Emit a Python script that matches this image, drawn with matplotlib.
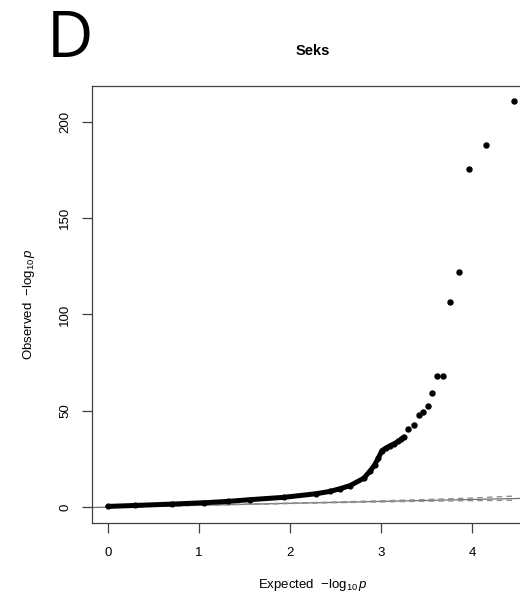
import matplotlib
matplotlib.use("Agg")
import matplotlib.pyplot as plt

plt.rcParams['font.family'] = ['Liberation Sans', 'DejaVu Sans']
plt.rcParams['mathtext.fontset'] = 'custom'
plt.rcParams['mathtext.rm'] = 'Liberation Sans'
plt.rcParams['mathtext.it'] = 'Liberation Sans:italic'

# expected vs observed -log10(p), dense body of the QQ curve
body_exp = [0.00, 0.30, 0.70, 1.05, 1.32, 1.56, 1.93, 2.29, 2.44, 2.55,
            2.66, 2.81, 2.88, 2.93, 2.97, 3.01, 3.05, 3.10, 3.14, 3.19,
            3.22, 3.25]
body_obs = [0.4, 0.9, 1.6, 2.3, 3.0, 3.9, 5.1, 7.0, 8.2, 9.6,
            11.2, 15.0, 18.8, 22.0, 25.5, 29.4, 30.5, 31.9, 32.8, 34.1,
            35.2, 36.4]

# top hits, drawn as separate points
tail_exp = [3.30, 3.36, 3.42, 3.46, 3.51, 3.56, 3.61, 3.68, 3.76, 3.86,
            3.97, 4.15, 4.46]
tail_obs = [40.7, 42.7, 47.6, 49.6, 52.7, 59.2, 67.8, 68.3, 106.3, 122.0,
            175.5, 188.0, 210.8]

# 95% band around the null line
ci_exp = [0.0, 0.5, 1.0, 1.5, 2.0, 2.5, 3.0, 3.5, 4.0, 4.46]
ci_hi = [0.02, 0.52, 1.04, 1.57, 2.12, 2.70, 3.32, 3.98, 4.75, 5.75]
ci_lo = [0.0, 0.48, 0.96, 1.44, 1.90, 2.33, 2.73, 3.10, 3.40, 3.60]

x_ticks = [0, 1, 2, 3, 4]
y_ticks = [0, 50, 100, 150, 200]

fig = plt.figure(figsize=(5.2, 5.96), dpi=100)
ax = fig.add_axes([0.176, 0.1225, 0.851, 0.7335])

xmin, xmax = -0.18, 4.68
ax.plot([xmin, xmax], [xmin, xmax], color='#707070', lw=0.9, zorder=1)
ax.plot(ci_exp, ci_hi, color='#909090', lw=1.0, ls=(0, (4, 3)), zorder=1)
ax.plot(ci_exp, ci_lo, color='#909090', lw=1.0, ls=(0, (4, 3)), zorder=1)

ax.plot(body_exp, body_obs, color='black', lw=3.6, solid_capstyle='round',
        marker='o', ms=3.4, zorder=2)
ax.plot(tail_exp, tail_obs, 'o', color='black', ms=3.6, zorder=2)

ax.set_xlim(xmin, xmax)
ax.set_ylim(-8.2, 218.6)
ax.set_xticks(x_ticks)
ax.set_yticks(y_ticks)
ax.set_yticklabels([str(v) for v in y_ticks], rotation=90, va='center')
ax.tick_params(direction='out', length=7.5, width=0.9, color='#404040',
               labelsize=9.5)
ax.tick_params(axis='x', pad=10)
ax.tick_params(axis='y', pad=7)
for sp in ax.spines.values():
    sp.set_color('#404040')
    sp.set_linewidth(0.9)

ax.set_xlabel(r'Expected  $-\mathrm{log}_{10}\,\mathit{p}$', fontsize=9.5,
              labelpad=13)
ax.set_ylabel(r'Observed  $-\mathrm{log}_{10}\,\mathit{p}$', fontsize=9.5,
              labelpad=16)
ax.set_title('Seks', fontsize=10.5, fontweight='bold', pad=22)

fig.text(0.090, 0.904, 'D', fontsize=46, ha='left', va='baseline',
         family='Open Sans')

fig.savefig('out.png', dpi=100)
